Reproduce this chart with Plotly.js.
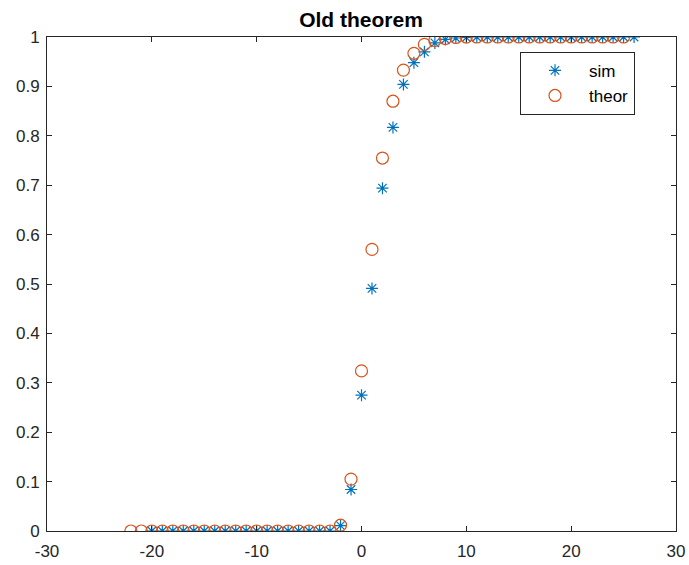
<!DOCTYPE html>
<html>
<head>
<meta charset="utf-8">
<script src="https://cdn.plot.ly/plotly-3.0.1.min.js"></script>
<style>html,body{margin:0;padding:0;background:#fff;}#chart{width:689px;height:565px;}</style>
</head>
<body>
<div id="chart"></div>
<script>
// sim: x = -20 .. 26
const simX = [-20,-19,-18,-17,-16,-15,-14,-13,-12,-11,-10,-9,-8,-7,-6,-5,-4,-3,-2,-1,0,1,2,3,4,5,6,7,8,9,10,11,12,13,14,15,16,17,18,19,20,21,22,23,24,25,26];
const simY = [0,0,0,0,0,0,0,0,0,0,0,0,0,0,0,0,0,0,0.011,0.084,0.275,0.491,0.694,0.817,0.904,0.948,0.970,0.988,0.995,0.998,0.999,1,1,1,1,1,1,1,1,1,1,1,1,1,1,1,1];
// theor: x = -22 .. 25
const theorX = [-22,-21,-20,-19,-18,-17,-16,-15,-14,-13,-12,-11,-10,-9,-8,-7,-6,-5,-4,-3,-2,-1,0,1,2,3,4,5,6,7,8,9,10,11,12,13,14,15,16,17,18,19,20,21,22,23,24,25];
const theorY = [0,0,0,0,0,0,0,0,0,0,0,0,0,0,0,0,0,0,0,0,0.012,0.105,0.324,0.570,0.755,0.870,0.933,0.967,0.985,0.993,0.997,0.999,1,1,1,1,1,1,1,1,1,1,1,1,1,1,1,1];
const xTicks = [-30,-20,-10,0,10,20,30];
const yTicks = [0,0.1,0.2,0.3,0.4,0.5,0.6,0.7,0.8,0.9,1];

const FONT = 'Liberation Sans, Arial, sans-serif';

const traces = [
  {x: simX, y: simY, name: 'sim', type: 'scatter', mode: 'markers',
   marker: {symbol: 'asterisk-open', size: 10, color: '#0072BD', line: {color: '#0072BD', width: 1.2}}},
  {x: theorX, y: theorY, name: 'theor', type: 'scatter', mode: 'markers',
   marker: {symbol: 'circle-open', size: 12, color: '#D95319', line: {color: '#D95319', width: 1.2}}}
];

const axisCommon = {
  showline: true, linecolor: '#262626', linewidth: 1, mirror: 'ticks',
  ticks: 'inside', ticklen: 5, tickcolor: '#262626', showgrid: false, zeroline: false,
  tickfont: {family: FONT, size: 17, color: '#262626'}
};

const layout = {
  width: 689, height: 565,
  margin: {l: 47, r: 13, t: 37, b: 34},
  paper_bgcolor: '#fff', plot_bgcolor: '#fff',
  title: {text: '<b>Old theorem</b>', x: 0.524, xanchor: 'center', y: 0.9655, yanchor: 'middle',
          font: {family: FONT, size: 21, color: '#000'}},
  xaxis: Object.assign({}, axisCommon, {range: [-30, 30], tickvals: xTicks, ticktext: xTicks.map(String), ticklabelstandoff: 5}),
  yaxis: Object.assign({}, axisCommon, {range: [0, 1], tickvals: yTicks, ticktext: yTicks.map(String), ticklabelstandoff: 3}),
  showlegend: true,
  legend: {x: 0.752, y: 0.97, xanchor: 'left', yanchor: 'top',
           bordercolor: '#262626', borderwidth: 1, bgcolor: '#fff',
           font: {family: FONT, size: 17, color: '#000'},
           itemwidth: 58, tracegroupgap: 0}
};

Plotly.newPlot('chart', traces, layout, {displayModeBar: false, staticPlot: true});
</script>
</body>
</html>
